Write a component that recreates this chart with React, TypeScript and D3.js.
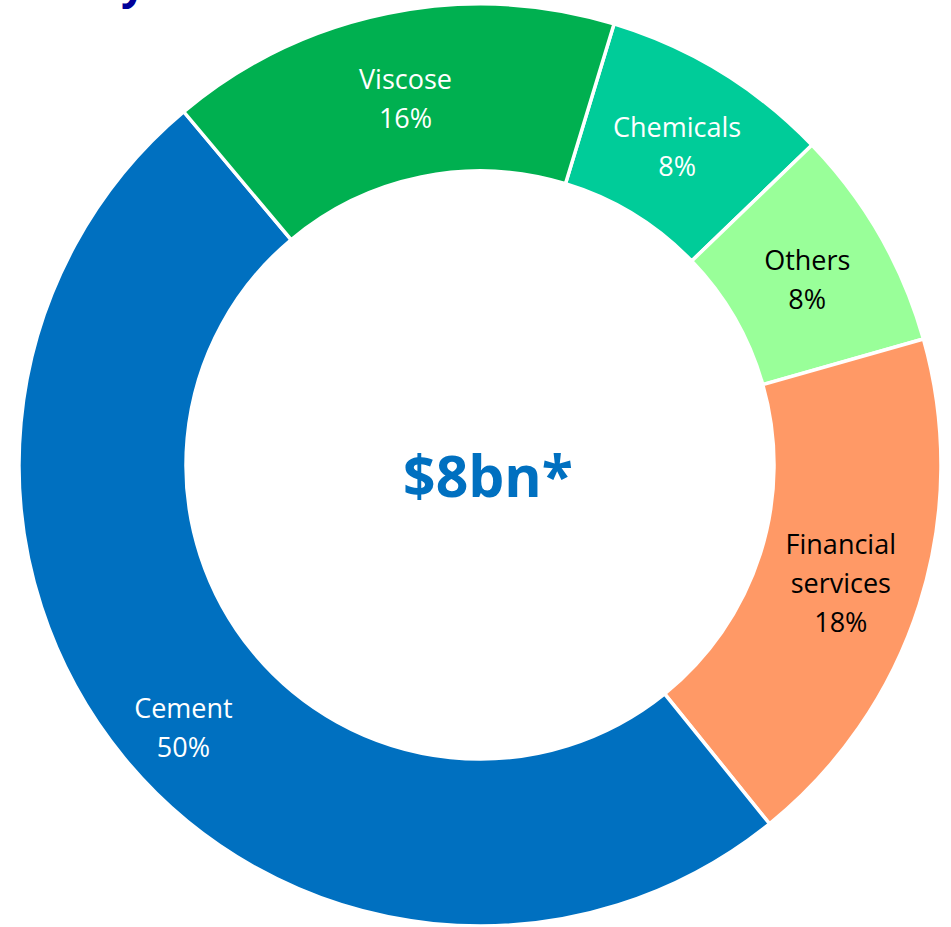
import React from "react";
import * as d3 from "d3";

const categories = ["Chemicals", "Others", "Financial services", "Cement", "Viscose"];
const values = [8.1, 7.8, 18.6, 49.7, 15.8];
const pctLabels = ["8%", "8%", "18%", "50%", "16%"];
const colors = ["#00CC99", "#99FF99", "#FF9966", "#0070C0", "#00B050"];
const labelColors = ["#FFFFFF", "#000000", "#000000", "#FFFFFF", "#FFFFFF"];
const labelLines = [["Chemicals"], ["Others"], ["Financial", "services"], ["Cement"], ["Viscose"]];
const centerText = "$8bn*";

const W = 951;
const H = 927;
const cx = 480;
const cy = 465;
const outerR = 461;
const innerR = 294;
const startDeg = 16.9;
const labelOffsetX = [0, 0, 1, -5, 1];
const labelOffsetY = [3, 2, 3, 22, 3];

export default function App() {
  const pie = d3
    .pie<number>()
    .sort(null)
    .value((d) => d)
    .startAngle((startDeg * Math.PI) / 180)
    .endAngle((startDeg * Math.PI) / 180 + 2 * Math.PI);
  const arcs = pie(values);
  const arc = d3.arc<d3.PieArcDatum<number>>().innerRadius(innerR).outerRadius(outerR);
  const lineH = 39;

  return (
    <svg
      width={W}
      height={H}
      style={{ position: "absolute", left: 0, top: 0, background: "#fff" }}
      fontFamily="'Open Sans', sans-serif"
    >
      <text x={121} y={-2} fontSize={44} fontWeight={700} fill="#000099" fontFamily="'Open Sans', sans-serif">
        y
      </text>
      <g transform={`translate(${cx},${cy})`}>
        {arcs.map((a, i) => (
          <path key={categories[i]} d={arc(a) || ""} fill={colors[i]} stroke="#FFFFFF" strokeWidth={3.5} />
        ))}
        {arcs.map((a, i) => {
          const [cxL, cyL] = arc.centroid(a);
          const lx = cxL + labelOffsetX[i];
          const ly = cyL + labelOffsetY[i];
          const lines = [...labelLines[i], pctLabels[i]];
          const n = lines.length;
          return (
            <text key={"l" + i} x={lx} y={ly} fill={labelColors[i]} fontSize={27} textAnchor="middle">
              {lines.map((t, j) => (
                <tspan key={j} x={lx} y={ly + (j - (n - 1) / 2) * lineH} dominantBaseline="central">
                  {t}
                </tspan>
              ))}
            </text>
          );
        })}
      </g>
      <text x={488} y={497} textAnchor="middle" fontSize={57} fontWeight={700} fill="#0070C0">
        {centerText}
      </text>
    </svg>
  );
}
